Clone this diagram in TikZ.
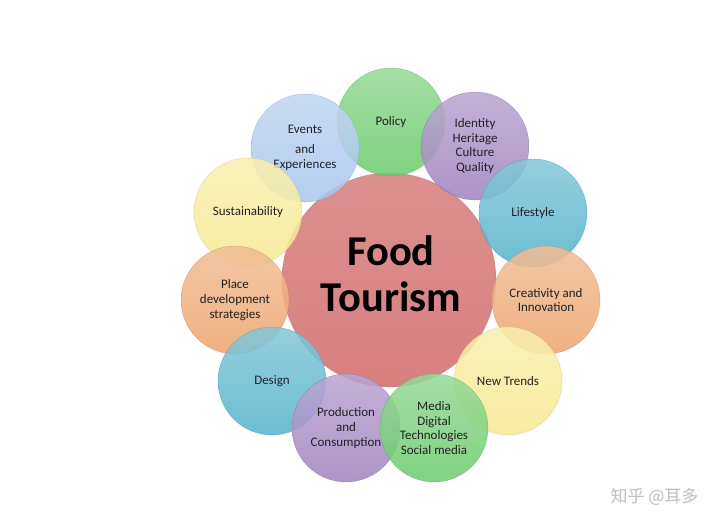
\documentclass[tikz,border=0pt]{standalone}
\usepackage{fontspec}
\setmainfont{Carlito}
\newfontfamily\cjk{Noto Sans CJK SC}
\definecolor{cCenter}{HTML}{D88080}
\definecolor{cGreen}{HTML}{6CCB6C}
\definecolor{cPurple}{HTML}{A083C0}
\definecolor{cTeal}{HTML}{55B2CC}
\definecolor{cOrange}{HTML}{EDA46E}
\definecolor{cYellow}{HTML}{F6EA92}
\definecolor{cBlue}{HTML}{A9C6EE}
\definecolor{txt}{HTML}{222222}
\tikzset{
  bubble/.style={circle, inner sep=0pt, minimum size=108pt, align=center,
    font=\fontsize{13}{14.7}\selectfont, text=txt,
    top color=#1!72!white, bottom color=#1, draw=#1!80!black, line width=0.5pt,
    fill opacity=0.86, draw opacity=0.45, text opacity=1},
  hub/.style={circle, inner sep=0pt, minimum size=214pt, align=center,
    font=\fontsize{42.5}{46}\selectfont\bfseries, text=black,
    top color=cCenter!88!white, bottom color=cCenter, draw=cCenter!80!black, line width=0.5pt,
    draw opacity=0.4},
  wmark/.style={font=\cjk\fontsize{17}{20}\selectfont, text=black!25}
}
\begin{document}
\begin{tikzpicture}[x=1pt,y=-1pt]
\useasboundingbox[fill=white] (0,0) rectangle (720,529);
\node[hub] (food) at (389,280) {};
\node[font=\fontsize{42.5}{46}\selectfont\bfseries, align=center] (foodtxt) at (391,274) {Food\\Tourism};
\node[bubble=cGreen] (policy) at (391,122) {Policy};
\node[bubble=cBlue] (events) at (305,148) {Events\\[5pt]and\\Experiences};
\node[bubble=cPurple] (identity) at (475,146) {Identity\\Heritage\\Culture\\Quality};
\node[bubble=cYellow] (sustain) at (248,212) {Sustainability};
\node[bubble=cTeal] (lifestyle) at (533,213) {Lifestyle};
\node[bubble=cOrange] (place) at (235,300) {Place\\development\\strategies};
\node[bubble=cOrange] (creative) at (546,300) {Creativity and\\Innovation};
\node[bubble=cTeal] (design) at (272,381) {Design};
\node[bubble=cYellow] (trends) at (508,381) {New Trends};
\node[bubble=cPurple] (prod) at (346,428) {Production\\and\\Consumption};
\node[bubble=cGreen] (media) at (434,428) {Media\\Digital\\Technologies\\Social media};
\node[wmark, anchor=east] (wm) at (702,497) {知乎 @耳多};
\end{tikzpicture}
\end{document}
